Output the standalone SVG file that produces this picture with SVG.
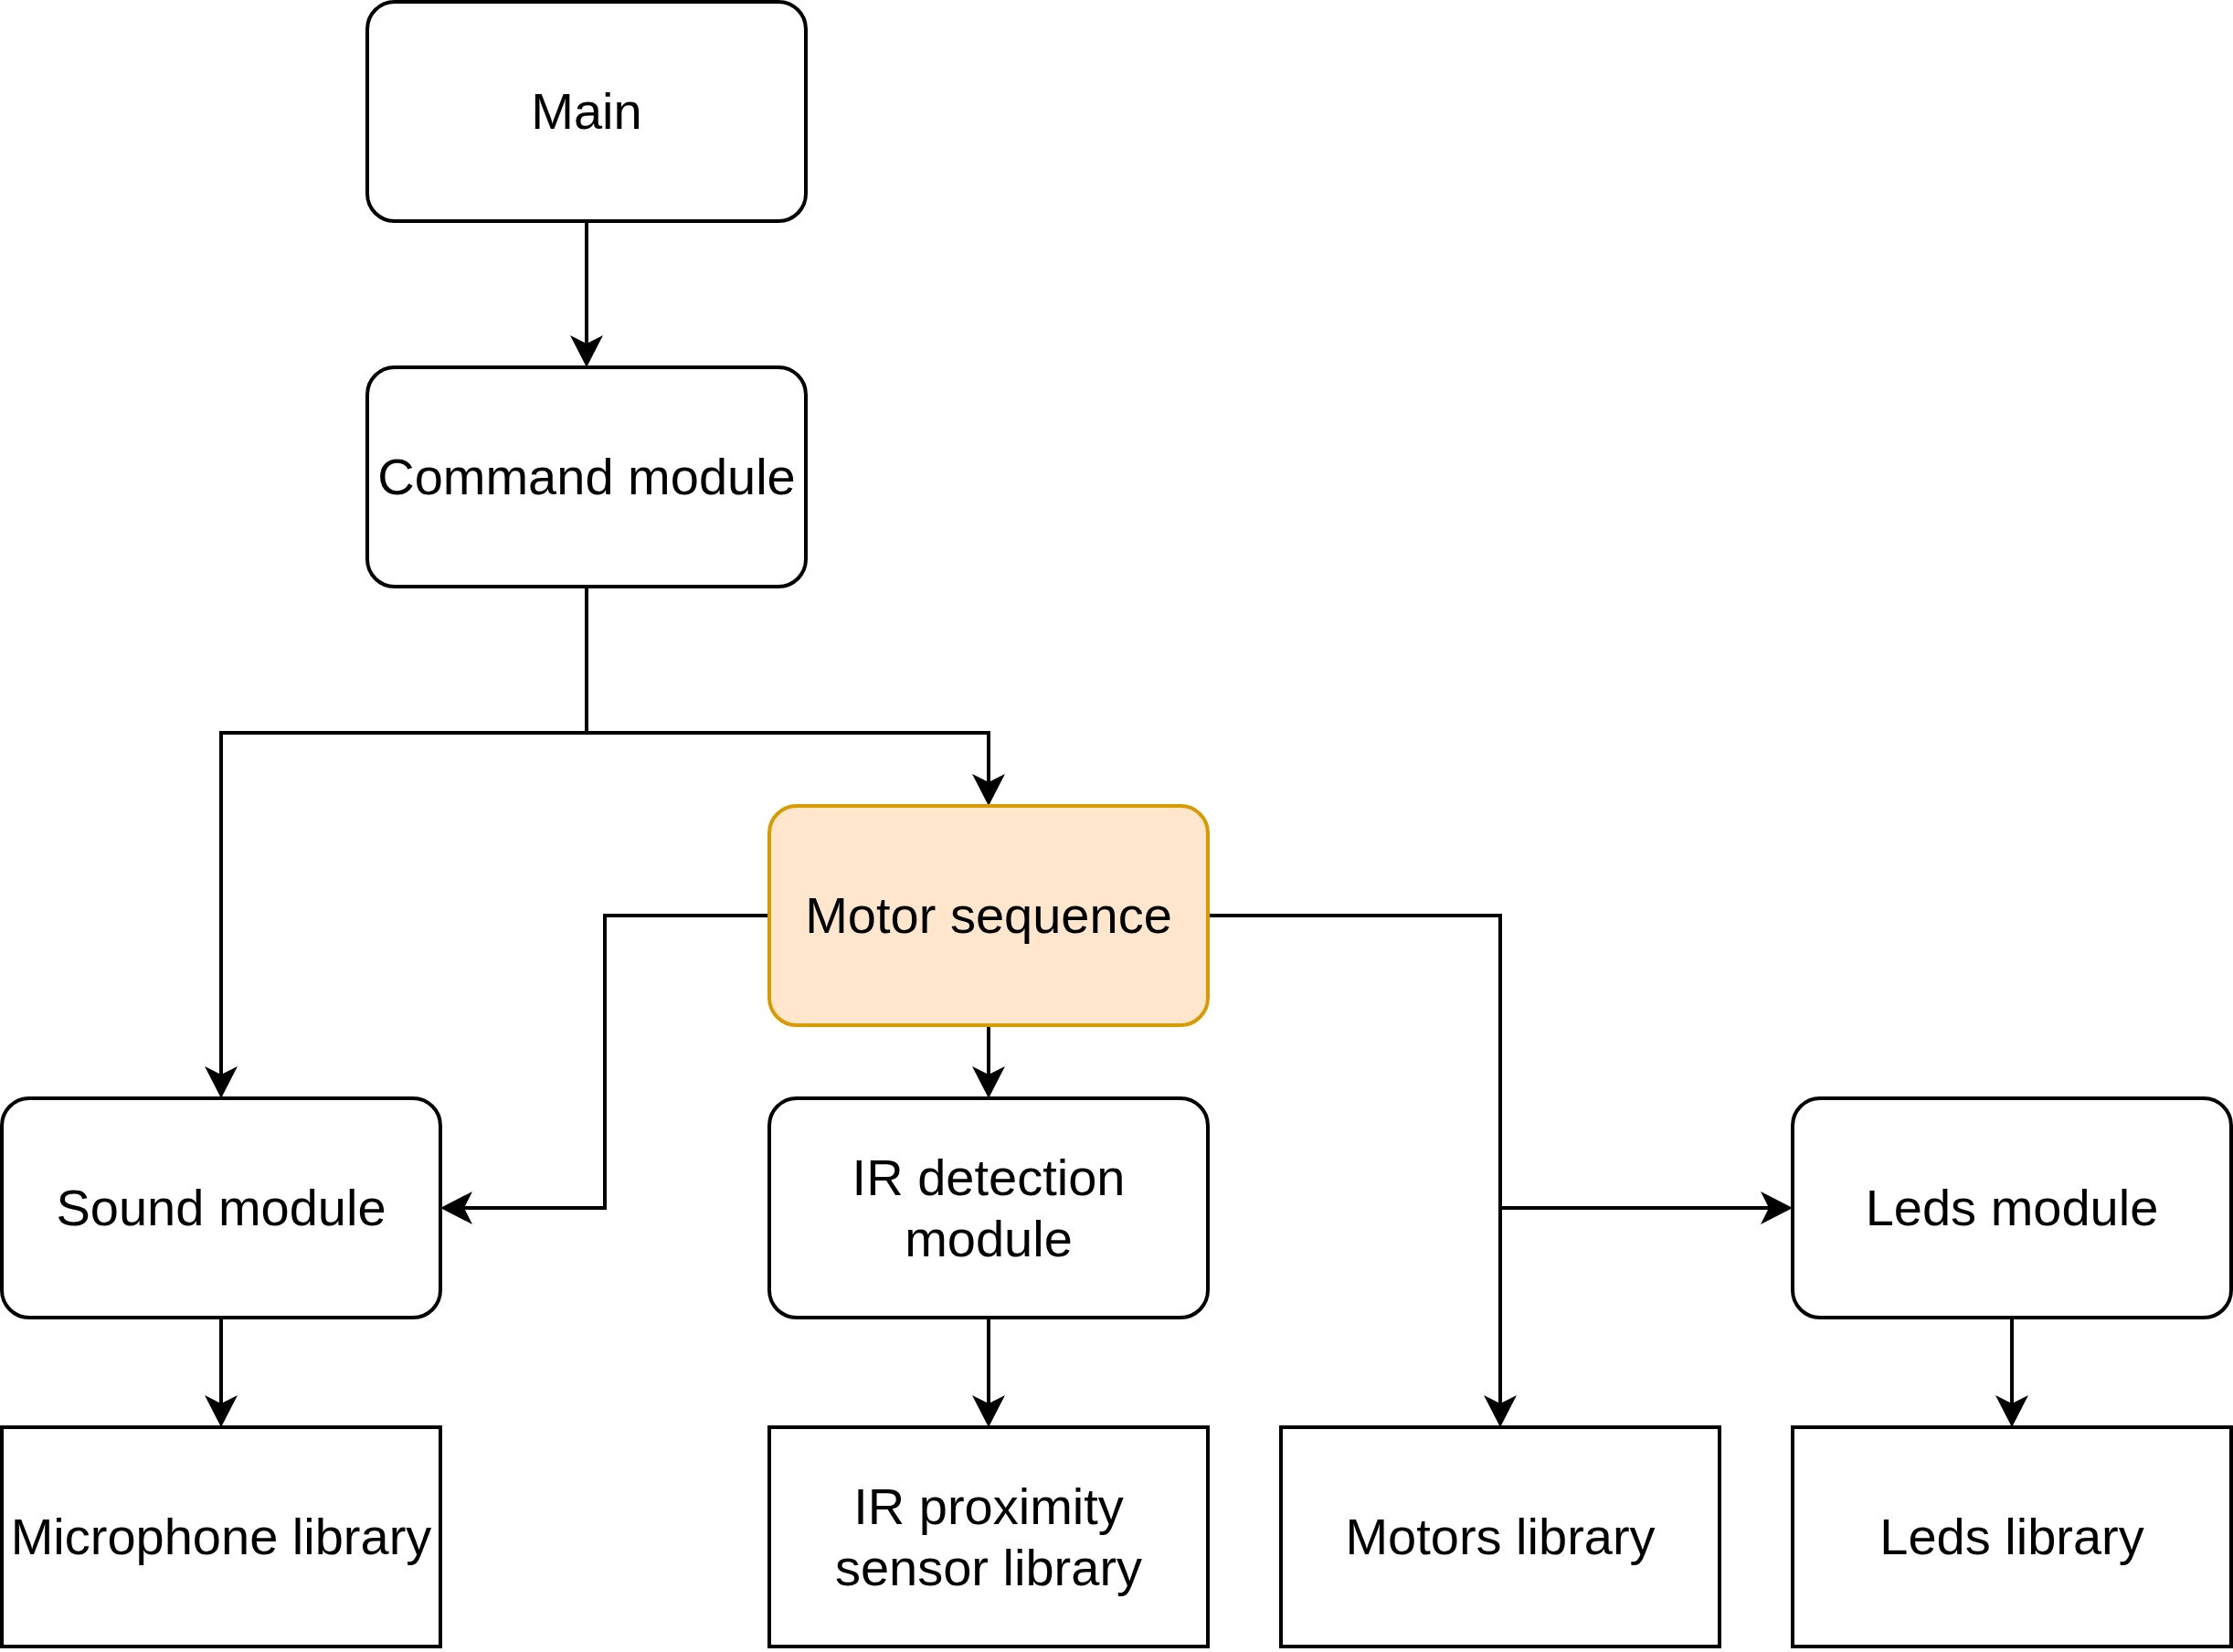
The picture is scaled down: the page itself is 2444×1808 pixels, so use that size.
<svg xmlns="http://www.w3.org/2000/svg" width="2444" height="1808" viewBox="0 0 2444 1808">
<style>
.box{fill:#ffffff;stroke:#000000;stroke-width:4}
.hl{fill:#ffe6cc;stroke:#d79b00;stroke-width:4}
.lbl{font-family:"Liberation Sans",Arial,Helvetica,sans-serif;font-size:56px;fill:#000000;text-anchor:middle}
.edge{fill:none;stroke:#000000;stroke-width:4}
</style>
<defs>
<marker id="arr" markerUnits="userSpaceOnUse" markerWidth="40" markerHeight="40" viewBox="0 -20 40 40" refX="9" refY="0" orient="auto">
<path d="M35,0 L0,-18 L9,0 L0,18 Z" fill="#000000"/>
</marker>
</defs>
<rect width="2444" height="1808" fill="#ffffff"/>
<g id="connectors">
<path class="edge" d="M642,242 V376" marker-end="url(#arr)"/>
<path class="edge" d="M642,642 V802 H242 V1176" marker-end="url(#arr)"/>
<path class="edge" d="M642,802 H1082 V856" marker-end="url(#arr)"/>
<path class="edge" d="M842,1002 H662 V1322 H508" marker-end="url(#arr)"/>
<path class="edge" d="M1082,1122 V1176" marker-end="url(#arr)"/>
<path class="edge" d="M1322,1002 H1642 V1536" marker-end="url(#arr)"/>
<path class="edge" d="M1642,1322 H1936" marker-end="url(#arr)"/>
<path class="edge" d="M242,1442 V1536" marker-end="url(#arr)"/>
<path class="edge" d="M1082,1442 V1536" marker-end="url(#arr)"/>
<path class="edge" d="M2202,1442 V1536" marker-end="url(#arr)"/>
</g>
<g id="main">
<rect class="box" x="402" y="2" width="480" height="240" rx="30" ry="30"/>
<text class="lbl" x="642" y="141">Main</text>
</g>
<g id="command-module">
<rect class="box" x="402" y="402" width="480" height="240" rx="30" ry="30"/>
<text class="lbl" x="642" y="541">Command module</text>
</g>
<g id="motor-sequence">
<rect class="hl" x="842" y="882" width="480" height="240" rx="30" ry="30"/>
<text class="lbl" x="1082" y="1021">Motor sequence</text>
</g>
<g id="sound-module">
<rect class="box" x="2" y="1202" width="480" height="240" rx="30" ry="30"/>
<text class="lbl" x="242" y="1341">Sound module</text>
</g>
<g id="ir-detection-module">
<rect class="box" x="842" y="1202" width="480" height="240" rx="30" ry="30"/>
<text class="lbl" x="1082" y="1308">IR detection</text>
<text class="lbl" x="1082" y="1375">module</text>
</g>
<g id="leds-module">
<rect class="box" x="1962" y="1202" width="480" height="240" rx="30" ry="30"/>
<text class="lbl" x="2202" y="1341">Leds module</text>
</g>
<g id="microphone-library">
<rect class="box" x="2" y="1562" width="480" height="240"/>
<text class="lbl" x="242" y="1701">Microphone library</text>
</g>
<g id="ir-proximity-sensor-library">
<rect class="box" x="842" y="1562" width="480" height="240"/>
<text class="lbl" x="1082" y="1668">IR proximity</text>
<text class="lbl" x="1082" y="1735">sensor library</text>
</g>
<g id="motors-library">
<rect class="box" x="1402" y="1562" width="480" height="240"/>
<text class="lbl" x="1642" y="1701">Motors library</text>
</g>
<g id="leds-library">
<rect class="box" x="1962" y="1562" width="480" height="240"/>
<text class="lbl" x="2202" y="1701">Leds library</text>
</g>
</svg>
